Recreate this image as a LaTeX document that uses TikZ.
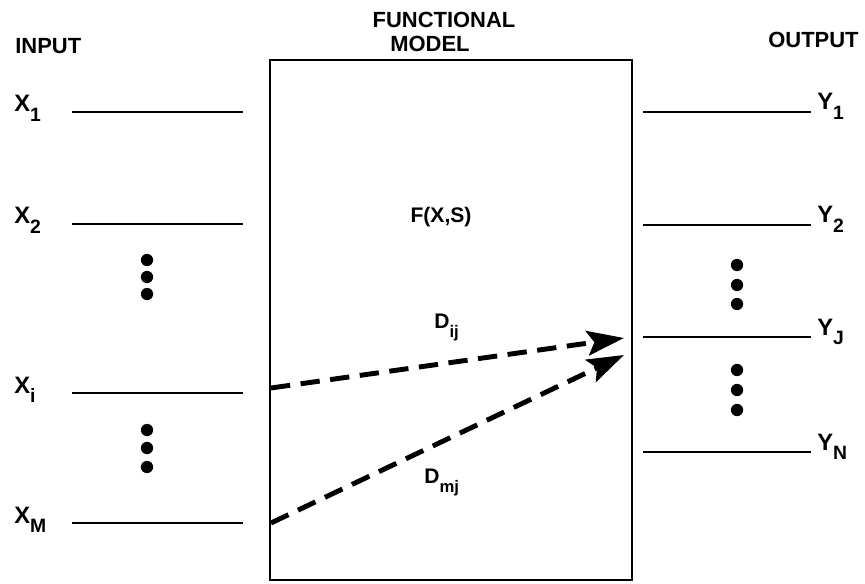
\documentclass[tikz,border=0pt]{standalone}
\usepackage{fontspec}
\setmainfont{Liberation Sans}
\usetikzlibrary{arrows.meta}
\newcommand{\sub}[1]{\raisebox{-0.42em}{\fontsize{11}{11}\selectfont #1}}
\newcommand{\smallsub}[1]{\raisebox{-0.45em}{\fontsize{9.5}{9.5}\selectfont #1}}

\begin{document}
\begin{tikzpicture}[x=0.02cm,y=-0.02cm,
  lbl/.style={font=\fontsize{13.5}{13.5}\selectfont\bfseries,anchor=base west,inner sep=0pt},
  head/.style={font=\fontsize{12.5}{12.5}\selectfont\bfseries,inner sep=0pt},
  stub/.style={line width=1.5pt},
  dot/.style={circle,fill,inner sep=0pt,minimum size=7pt},
  link/.style={line width=2.8pt,dash pattern=on 11pt off 6pt,-{Stealth[length=21pt,width=14pt,inset=4pt]}}]
  \useasboundingbox (0,0) rectangle (865,584);

  % headings
  \node[head,anchor=base west] (input) at (15,54) {INPUT};
  \node[head,anchor=base west] (output) at (768,48) {OUTPUT};
  \node[head,anchor=base] (func) at (444,28) {FUNCTIONAL};
  \node[head,anchor=base] (model) at (430,52) {MODEL};

  % the model box
  \node[draw,line width=1.5pt,inner sep=0pt,minimum width=7.24cm,minimum height=10.4cm] (box) at (451,320) {};
  \node[font=\fontsize{12}{12}\selectfont\bfseries,anchor=base] (fxs) at (441,222) {F(X,S)};

  % inputs
  \foreach \n/\y in {1/112,2/224,i/393,M/523} {
    \node[lbl] (x\n) at (14,\y) {X\sub{\n}};
    \draw[stub] (72,\y) coordinate (xa\n) -- (243,\y) coordinate (xb\n);
  }
  % outputs
  \foreach \n/\y in {1/112,2/225,J/337,N/452} {
    \node[lbl] (y\n) at (817,\y-2) {Y\sub{\n}};
    \draw[stub] (643,\y) coordinate (ya\n) -- (811,\y) coordinate (yb\n);
  }

  % dots
  \foreach \k/\y in {1/260,2/277,3/294,4/430,5/448,6/467}
    \node[dot] (ldot\k) at (147,\y) {};
  \foreach \k/\y in {1/265,2/285,3/304,4/370,5/390,6/410}
    \node[dot] (rdot\k) at (737,\y) {};

  % dependencies
  \coordinate (dijs) at (271,388);
  \coordinate (dije) at (624,338);
  \coordinate (dmjs) at (271,523);
  \coordinate (dmje) at (624,355);
  \draw[link] (dijs) -- (dije);
  \draw[link] (dmjs) -- (dmje);
  \node[font=\fontsize{12}{12}\selectfont\bfseries,anchor=base west,inner sep=0pt] (dij) at (434,328) {D\smallsub{ij}};
  \node[font=\fontsize{12}{12}\selectfont\bfseries,anchor=base west,inner sep=0pt] (dmj) at (424,483) {D\smallsub{mj}};
\end{tikzpicture}
\end{document}
